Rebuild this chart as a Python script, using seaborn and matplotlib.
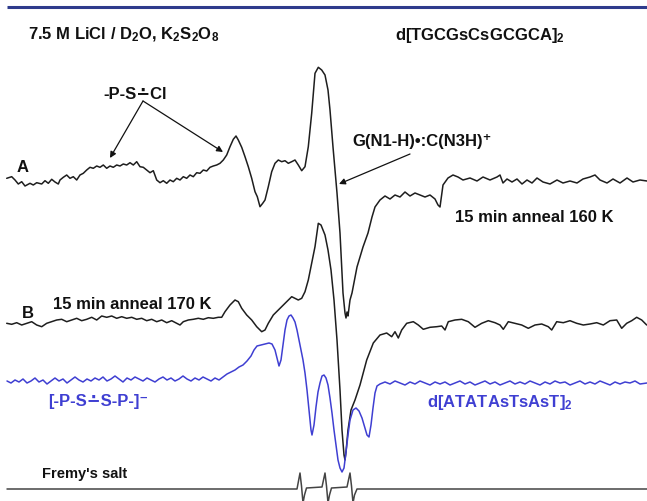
import matplotlib
matplotlib.use("Agg")
import matplotlib.pyplot as plt
import seaborn as sns
import pandas as pd

sns.set_style("white")
plt.rcParams['font.family'] = ['Liberation Sans', 'DejaVu Sans']
plt.rcParams['mathtext.fontset'] = 'custom'
plt.rcParams['mathtext.rm'] = 'Liberation Sans:bold'
plt.rcParams['mathtext.it'] = 'Liberation Sans:bold'
plt.rcParams['mathtext.bf'] = 'Liberation Sans:bold'
plt.rcParams['mathtext.default'] = 'rm'

# ---- spectra: (field position, signal) in image units ----
trace_a = [
    (6.7, 178.3), (11.7, 176.7), (15, 180), (18.3, 184), (21.7, 181.7), (25, 186), (30, 183.3), (33.3, 185),
    (36.7, 182.7), (41.7, 184), (45, 180.7), (48.3, 183.3), (51.7, 179.3), (55, 182), (58.3, 184), (60, 180),
    (63.3, 177.3), (66.7, 175), (70, 178.3), (73.3, 176.7), (76.7, 180), (80, 175), (83.3, 173.3), (86.7, 170),
    (90, 167.3), (93.3, 168.3), (96.7, 166), (100, 167.3), (103.3, 165), (106.7, 168.3), (110, 166), (113.3, 167.3),
    (116.7, 165), (120, 166), (123.3, 164), (126.7, 165), (130, 162.7), (133.3, 165), (136.7, 161.7), (140, 166.7),
    (143.3, 167.3), (146.7, 170), (150, 172.7), (153.3, 170.7), (156.7, 180), (160, 182.7), (163.3, 180.7),
    (166.7, 183.3), (170, 180), (173.3, 181.7), (176.7, 178.3), (180, 180), (183.3, 176.7), (186.7, 178.3),
    (190, 175), (193.3, 176.7), (196.7, 172.7), (200, 173.3), (203.3, 170), (206.7, 171), (210, 167.3),
    (213.3, 166), (216.7, 165), (220, 163.3), (223.3, 160), (226.7, 155), (230, 146.7), (233.3, 139.3), (236, 136),
    (238.3, 140), (241.7, 147.3), (245, 156.7), (248.3, 166.7), (251.7, 178.3), (255, 191.7), (257.3, 196.7),
    (260, 206.7), (262.7, 203.3), (265, 200), (268.3, 186.7), (271.7, 171.7), (275, 163.3), (278.3, 160),
    (281.7, 161.7), (285, 160.7), (288.3, 163.3), (291.7, 161.7), (295, 160), (298.3, 165), (301.7, 170.7),
    (305, 166.7), (308.3, 146.7), (311.7, 113.3), (315, 73.3), (318.3, 67.3), (321.7, 70), (325, 75), (328, 90),
    (330, 110), (333, 147), (337, 193), (340, 233), (343, 293), (345, 313), (346, 318), (347, 312), (348, 316),
    (350, 300), (352, 293), (357, 267), (363, 247), (368, 233), (372, 217), (375, 207), (380, 200), (385, 196),
    (390, 199), (395, 195), (400, 197), (405, 192), (410, 196), (415, 193), (420, 195), (425, 197), (430, 195),
    (435, 199), (438, 205), (440, 207), (443, 185), (448, 178), (453, 175), (458, 177), (463, 180), (470, 178),
    (477, 181), (483, 177), (490, 180), (497, 177), (500, 175), (503, 183), (507, 179), (512, 182), (517, 179),
    (522, 184), (527, 180), (532, 183), (537, 178), (543, 182), (550, 184), (557, 180), (563, 183), (570, 181),
    (577, 183), (583, 179), (590, 177), (595, 175), (600, 180), (607, 183), (613, 179), (620, 183), (627, 178),
    (633, 182), (640, 180), (647, 181)]

trace_b = [
    (6.7, 323.3), (11.7, 324.3), (16.7, 322.7), (21.7, 325), (26.7, 323.3), (31.7, 321.7), (36.7, 325),
    (41.7, 326.7), (46.7, 323.3), (51.7, 321.7), (56.7, 320), (61.7, 319.3), (66.7, 321.7), (71.7, 320),
    (76.7, 318.3), (81.7, 320.7), (86.7, 319.3), (91.7, 317.3), (96.7, 320), (101.7, 316), (106.7, 317.3),
    (111.7, 316), (116.7, 318.3), (121.7, 316.7), (126.7, 318.3), (131.7, 317.3), (136.7, 319.3), (141.7, 318.3),
    (146.7, 320.7), (151.7, 319.3), (156.7, 321.7), (161.7, 320), (166.7, 322.7), (171.7, 320.7), (176.7, 323.3),
    (180, 325), (183.3, 321.7), (188.3, 320), (193.3, 319.3), (198.3, 318.3), (203.3, 319.3), (208.3, 317.7),
    (213.3, 318.3), (218.3, 317.3), (221.7, 317.3), (225, 311.7), (230, 305), (235, 300), (238.3, 301.7),
    (241.7, 308.3), (246.7, 315), (251.7, 320), (256.7, 326.7), (261.7, 331.7), (265, 330), (268.3, 323.3),
    (273.3, 315), (278.3, 310), (283.3, 305), (288.3, 300), (291.7, 296.7), (295, 298.3), (298.3, 300),
    (301.7, 298.3), (305, 291.7), (308.3, 280), (311.7, 263.3), (315, 246.7), (318.3, 223.3), (321, 225),
    (325, 235), (328, 250), (331, 270), (334, 300), (337, 340), (340, 390), (342, 430), (344, 455), (345, 460),
    (346, 452), (348, 430), (351, 410), (355, 400), (360, 385), (366.7, 360), (373.3, 343), (380, 335),
    (386.7, 333), (391.7, 336.7), (395, 331.7), (398.3, 338), (401.7, 330), (406.7, 323.3), (413.3, 321.7),
    (418.3, 325), (423.3, 329.3), (430, 327.3), (436.7, 326.7), (441.7, 326), (445, 330), (448.3, 321.7),
    (455, 320), (461.7, 319.3), (468.3, 321.7), (475, 327.3), (481.7, 323.3), (488.3, 320.7), (495, 322.7),
    (500, 325), (503.3, 329.3), (508.3, 321.7), (515, 323.3), (521.7, 325), (528.3, 328.3), (535, 325),
    (541.7, 324), (548.3, 326.7), (551.7, 330), (556.7, 321.7), (563.3, 322.7), (570, 320.7), (576.7, 323.3),
    (583.3, 325), (590, 324), (596.7, 322.7), (603.3, 325), (610, 320.7), (616.7, 320), (621.7, 328.3),
    (626.7, 323.3), (631.7, 320.7), (636.7, 317.3), (641.7, 320), (646.7, 325)]

trace_blue = [
    (7, 381), (11, 383), (15, 380), (19, 382), (23, 379), (27, 383), (31, 381), (35, 378), (39, 382), (43, 380),
    (47, 384), (51, 381), (55, 378), (59, 381), (63, 379), (67, 383), (71, 380), (75, 377), (79, 380), (83, 382),
    (87, 379), (91, 381), (95, 378), (99, 380), (103, 377), (107, 381), (111, 379), (115, 376), (119, 379),
    (123, 382), (127, 378), (131, 380), (135, 377), (139, 379), (143, 381), (147, 378), (151, 380), (155, 382),
    (159, 379), (163, 377), (167, 380), (171, 378), (175, 381), (179, 379), (183, 376), (187, 379), (191, 381),
    (195, 378), (199, 380), (203, 377), (207, 379), (211, 381), (215, 378), (219, 380), (223, 377), (227, 374),
    (231, 372), (235, 370), (239, 367), (243, 365), (247, 361), (251, 356), (254, 350), (257, 346), (261, 345),
    (265, 344), (269, 343), (272, 344), (275, 350), (277, 358), (279, 366), (281, 360), (283, 345), (285, 330),
    (287, 320), (289, 316), (291, 315), (293, 318), (295, 322), (297, 330), (299, 340), (301, 350), (303, 360),
    (305, 373), (307, 390), (309, 410), (311, 430), (312, 435), (314, 425), (316, 407), (318, 392), (320, 383),
    (322, 376), (324, 375), (326, 378), (328, 385), (330, 398), (332, 413), (334, 430), (336, 445), (338, 460),
    (340, 468), (342, 472), (344, 468), (346, 452), (348, 435), (350, 420), (353, 410), (356, 408), (359, 411),
    (362, 418), (365, 428), (367, 435), (369, 437), (371, 425), (373, 408), (375, 393), (377, 386), (380, 384),
    (385, 382), (390, 384), (395, 381), (400, 383), (405, 385), (410, 382), (415, 384), (420, 381), (425, 383),
    (430, 385), (435, 382), (440, 384), (445, 382), (450, 385), (455, 383), (460, 381), (465, 384), (470, 382),
    (475, 385), (480, 383), (485, 381), (490, 384), (495, 382), (500, 385), (505, 383), (510, 381), (515, 384),
    (520, 382), (525, 384), (530, 381), (535, 383), (540, 385), (545, 382), (550, 384), (555, 381), (560, 383),
    (565, 382), (570, 385), (575, 383), (580, 381), (585, 384), (590, 382), (595, 384), (600, 381), (605, 383),
    (610, 385), (615, 382), (620, 384), (625, 382), (630, 383), (635, 381), (640, 384), (647, 383)]

trace_fremy = [
    (7, 489), (297, 489), (298.5, 481), (300, 473), (301.5, 486), (303, 503), (304.5, 495), (306.5, 488),
    (322, 487), (323.5, 480), (325, 473), (326.5, 486), (328, 503), (329.5, 495), (331.5, 488), (347, 487),
    (348.5, 480), (350, 473), (351.5, 486), (353, 503), (354.5, 495), (357, 489), (647, 489)]

trace_colors = ['#1e1e1e', '#1e1e1e', '#3f3fd2', '#444444']

fig = plt.figure(figsize=(6.47, 5.01), dpi=100)
ax = fig.add_axes([0, 0, 1, 1])

for pts, col in zip([trace_a, trace_b, trace_blue, trace_fremy], trace_colors):
    df = pd.DataFrame(pts, columns=['x', 'y'])
    sns.lineplot(data=df, x='x', y='y', sort=False, estimator=None, color=col, lw=1.1, ax=ax)

ax.set_xlim(0, 647)
ax.set_ylim(501, 0)
ax.axis('off')

# journal header rule
ax.hlines(6.5, 7, 647, color='#2e3b8c', lw=2.2)

fs = 12
tk = dict(fontweight='bold', va='baseline', ha='left')
ax.text(28, 39.5, r'7.5 M LiCl / D$_2$O, K$_2$S$_2$O$_8$', fontsize=fs, color='#111111', **tk)
ax.text(395, 39.5, r'd[TGCGsCsGCGCA]$_2$', fontsize=fs, color='#111111', **tk)
ax.text(103, 99.3, '-P-S\u2238Cl', fontsize=fs, color='#111111', **tk)
ax.text(352, 146, 'G(N1-H)\u2022:C(N3H)\u207a', fontsize=fs, color='#111111', **tk)
ax.text(455, 221.5, '15 min anneal 160 K', fontsize=fs, color='#111111', **tk)
ax.text(17, 171.5, 'A', fontsize=fs, color='#111111', **tk)
ax.text(22, 318, 'B', fontsize=fs, color='#111111', **tk)
ax.text(53, 309, '15 min anneal 170 K', fontsize=fs, color='#111111', **tk)
ax.text(48, 406, '[-P-S\u2238S-P-]\u207b', fontsize=fs, color='#3f3fd2', **tk)
ax.text(427, 407, r'd[ATATAsTsAsT]$_2$', fontsize=fs, color='#3f3fd2', **tk)
ax.text(42, 478, "Fremy's salt", fontsize=10.5, color='#111111', **tk)

ap = dict(arrowstyle='-|>', color='#111111', lw=0.9, mutation_scale=9, shrinkA=0, shrinkB=0)
ax.annotate('', xy=(110, 158), xytext=(143, 101), arrowprops=ap)
ax.annotate('', xy=(223, 152), xytext=(143, 101), arrowprops=ap)
ax.annotate('', xy=(339, 184), xytext=(410, 154), arrowprops=ap)

fig.savefig('out.png', dpi=100, facecolor='white')
